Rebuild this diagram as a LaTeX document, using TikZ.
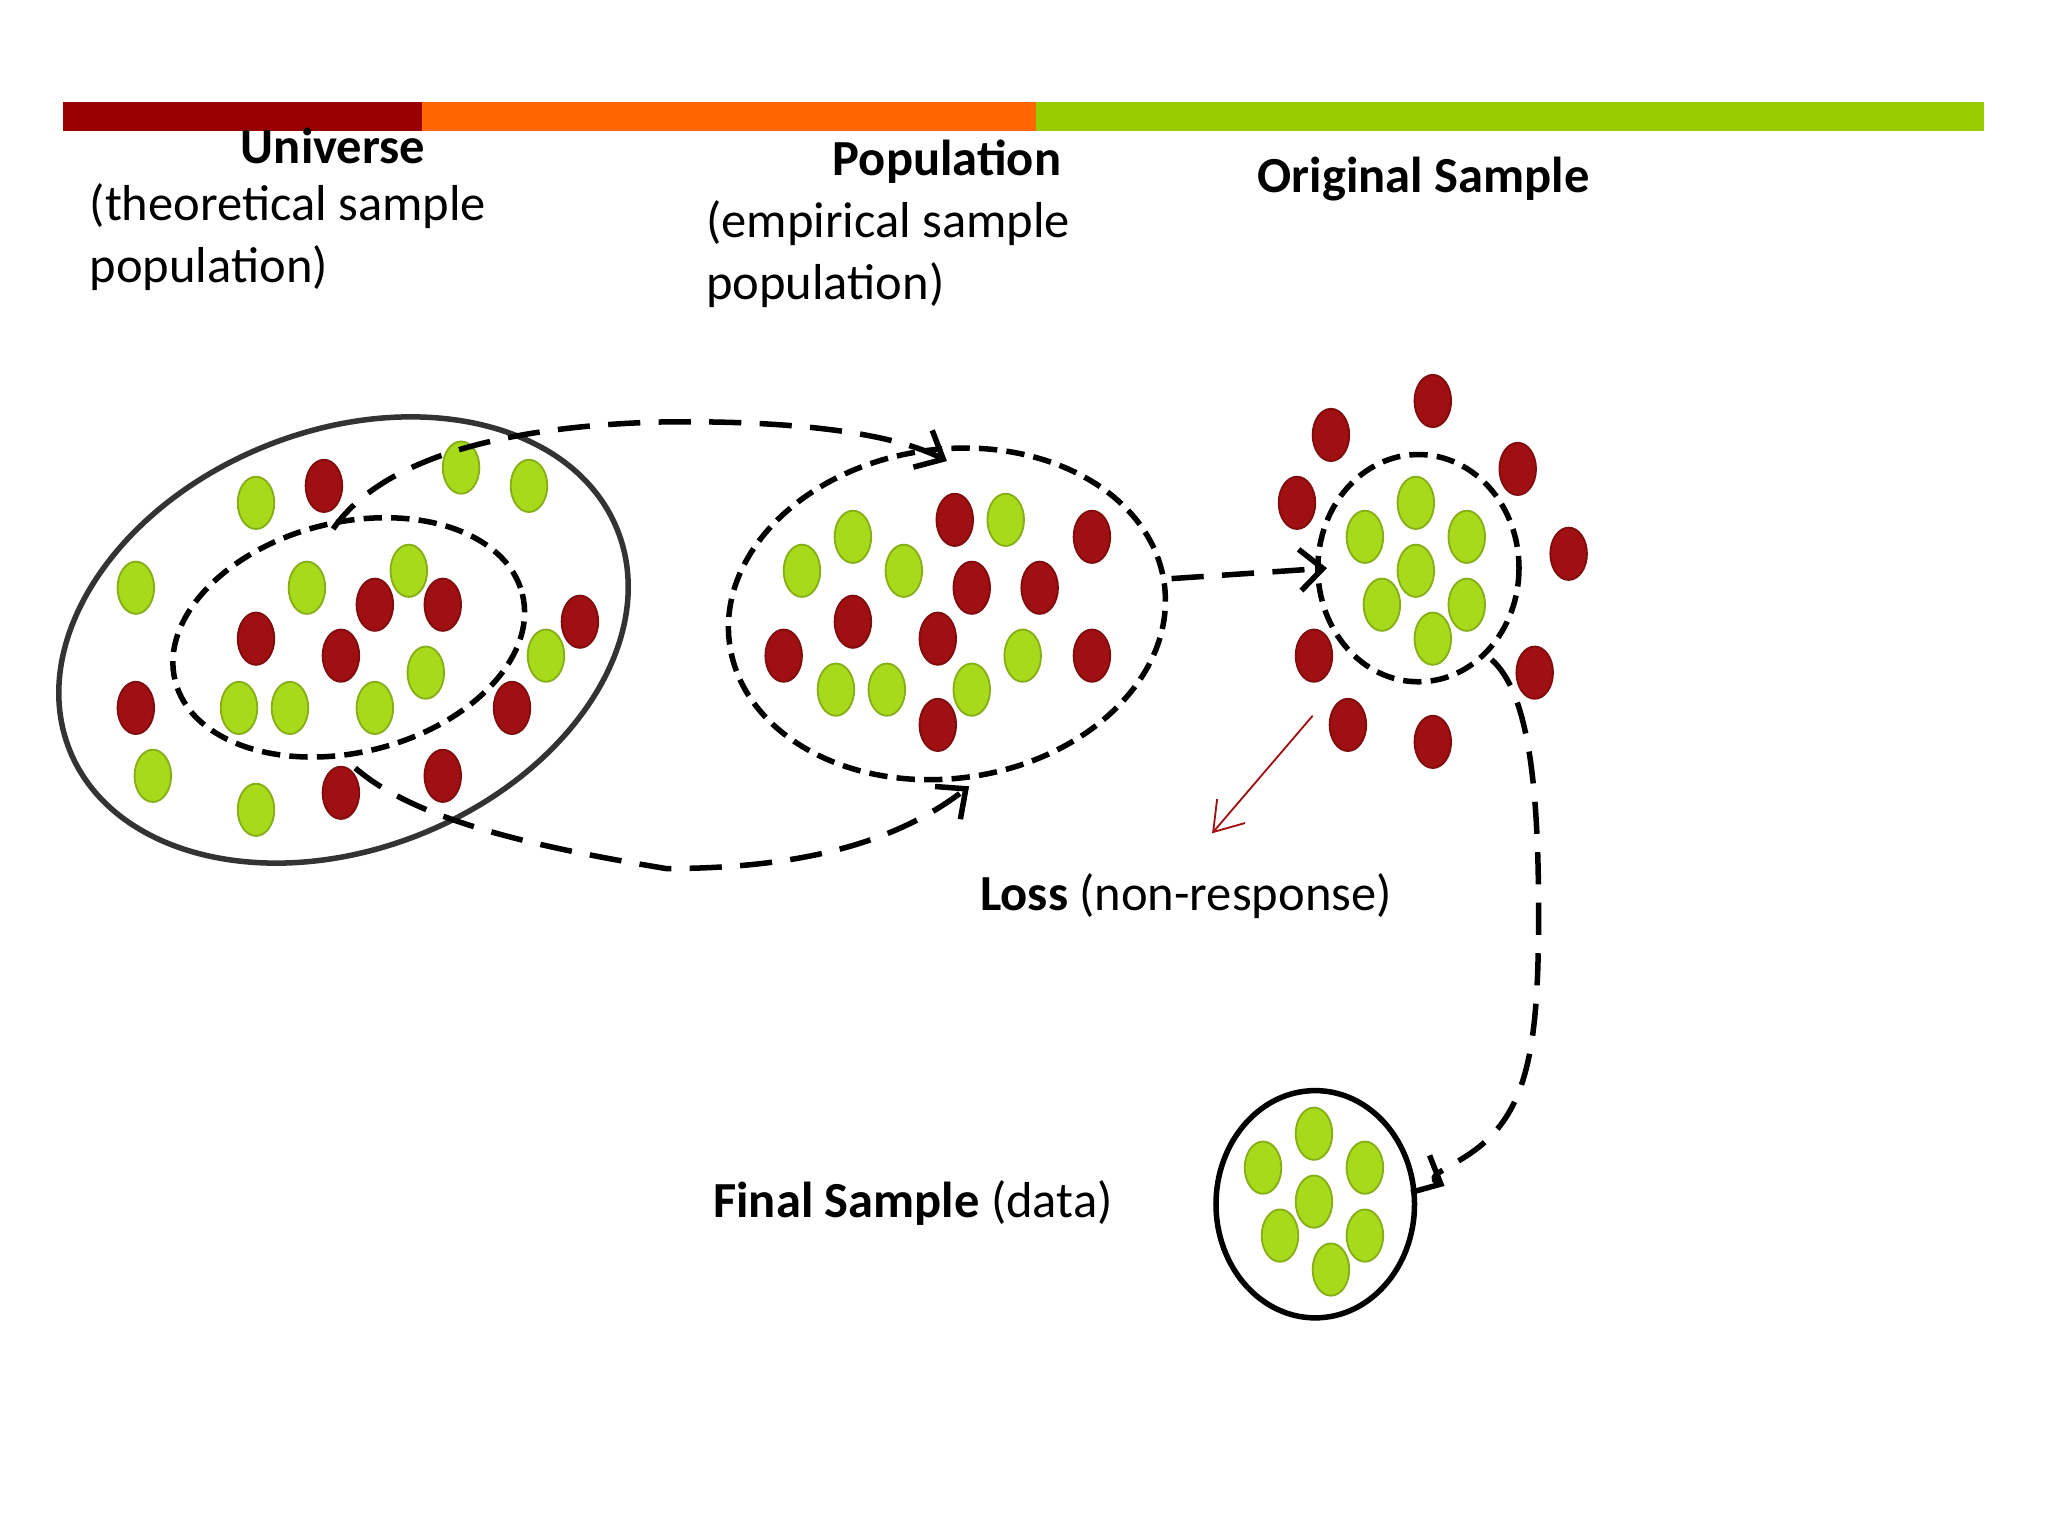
\documentclass[tikz,border=0pt]{standalone}
\usepackage{fontspec}
\setmainfont{Carlito}
\usetikzlibrary{arrows.meta,shapes.geometric}
\definecolor{dred}{HTML}{A00F12}
\definecolor{bred}{HTML}{990000}
\definecolor{borange}{HTML}{FF6600}
\definecolor{bgreen}{HTML}{99CC00}
\definecolor{dgreen}{HTML}{A8DA1C}
\begin{document}
\begin{tikzpicture}[x=0.01cm,y=-0.01cm,
		gdot/.style={ellipse,fill=dgreen,draw=dgreen!80!black,thin,minimum width=0.28cm,minimum height=0.40cm,inner sep=0pt},
		rdot/.style={ellipse,fill=dred,draw=dred!80!black,thin,minimum width=0.28cm,minimum height=0.40cm,inner sep=0pt},
		flow/.style={very thick,dashed,dash pattern=on 7pt off 4pt,-{Straight Barb[length=5pt,width=9pt]}},
		txt/.style={font=\fontsize{11}{13.5}\selectfont,inner sep=0pt}]
	\useasboundingbox (0,0) rectangle (1568,1176);
	%% top bar
	\fill[bred] (48,78) rectangle (323,100);
	\fill[borange] (323,78) rectangle (793,100);
	\fill[bgreen] (793,78) rectangle (1519,100);
	%% titles
	\node[txt,font=\fontsize{11}{13.5}\selectfont\bfseries] (universe) at (255,112) {Universe};
	\node[txt,anchor=north west,align=left] (universetxt) at (68,140) {(theoretical sample\\population)};
	\node[txt,font=\fontsize{11}{13.5}\selectfont\bfseries] (population) at (725,124) {Population};
	\node[txt,anchor=north west,align=left] (populationtxt) at (540,153) {(empirical sample\\population)};
	\node[txt,font=\fontsize{11}{13.5}\selectfont\bfseries] (original) at (1090,137) {Original Sample};
	\node[txt] (loss) at (908,686) {\textbf{Loss} (non-response)};
	\node[txt] (final) at (699,921) {\textbf{Final Sample} (data)};
	%% sets
	\draw[very thick,black!80] (263,490) ellipse[x radius=226,y radius=160,rotate=22];
	\draw[very thick,dashed,dash pattern=on 4pt off 2pt] (267,488) ellipse[x radius=137,y radius=88,rotate=14];
	\draw[very thick,dashed,dash pattern=on 4pt off 2pt] (725,470) ellipse[x radius=168,y radius=126,rotate=8];
	\draw[very thick,dashed,dash pattern=on 4pt off 2pt] (1086,435) ellipse[x radius=77,y radius=87];
	\draw[very thick] (1007,922) ellipse[x radius=76,y radius=87];
	%% dots
	\foreach \x/\y in {196/385,353/358,405/372,104/450,235/450,313/437,418/502,326/515,183/542,222/542,287/542,117/594,196/620,
		653/411,770/398,614/437,692/437,783/502,640/528,679/528,744/528,
		1084/385,1045/411,1123/411,1084/437,1058/463,1123/463,1097/489,
		1006/868,967/894,1045/894,1006/920,980/946,1045/946,1019/972}
		\node[gdot] at (\x,\y) {};
	\foreach \x/\y in {248/372,287/463,339/463,444/476,196/489,261/502,104/542,392/542,261/607,339/594,
		731/398,836/411,744/450,796/450,653/476,718/489,600/502,836/502,718/555,
		1097/307,1019/333,1162/359,993/385,1201/424,1006/502,1175/515,1032/555,1097/568}
		\node[rdot] at (\x,\y) {};
	%% connectors
	\coordinate (u1) at (255,405);
	\coordinate (p1) at (725,353);
	\coordinate (u2) at (272,588);
	\coordinate (p2) at (742,602);
	\coordinate (p3) at (897,443);
	\coordinate (o1) at (1016,435);
	\coordinate (o2) at (1142,505);
	\coordinate (f1) at (1106,908);
	\coordinate (l1) at (1005,548);
	\coordinate (l2) at (928,638);
	\draw[flow] (u1) .. controls (300,340) and (420,325) .. (510,323) .. controls (600,322) and (680,330) .. (p1);
	\draw[flow] (u2) .. controls (320,630) and (420,650) .. (510,665) .. controls (600,665) and (680,650) .. (p2);
	\draw[flow] (p3) -- (o1);
	\draw[flow] (o2) .. controls (1170,530) and (1178,600) .. (1178,700) .. controls (1178,800) and (1170,850) .. (1130,880) .. controls (1110,895) and (1090,900) .. (f1);
	\draw[dred,thin,-{Straight Barb[length=6pt,width=8pt]}] (l1) -- (l2);
\end{tikzpicture}
\end{document}
